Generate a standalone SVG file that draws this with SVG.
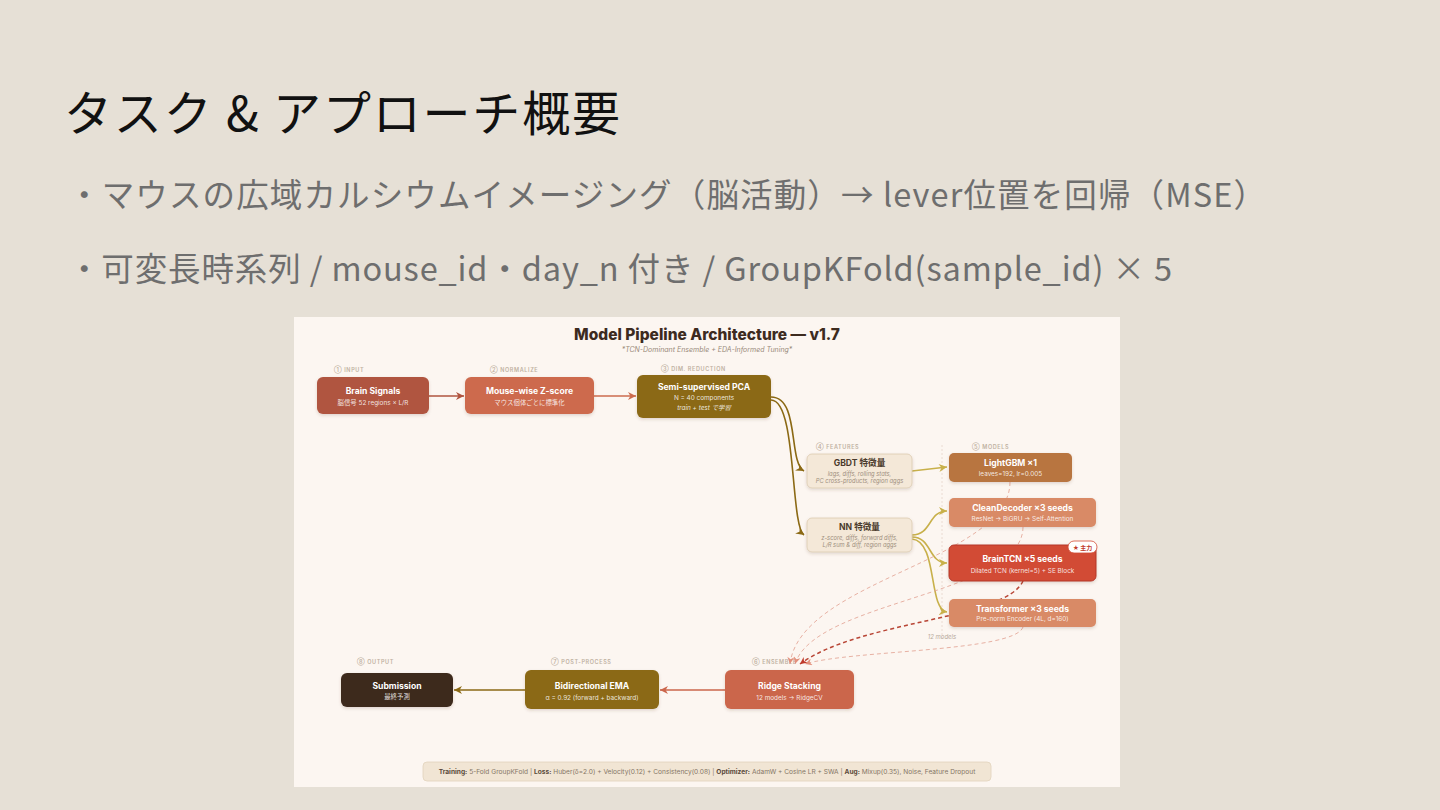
<svg xmlns="http://www.w3.org/2000/svg" width="1440" height="810" viewBox="0 0 1440 810">
<defs>
<style>
.slide{font-family:"Noto Sans CJK JP","Noto Sans",sans-serif}
.d{font-family:Inter,"Noto Sans CJK JP",sans-serif}
.stage{font-size:5.5px;fill:#bfb1a1;letter-spacing:0.6px;font-weight:600}
.nt{font-size:8.6px;font-weight:700;fill:#fff;text-anchor:middle}
.ns{font-size:6.4px;fill:#fff;fill-opacity:0.85;text-anchor:middle}
.ft{font-size:8.6px;font-weight:700;fill:#4a3a2c;text-anchor:middle}
.fs{font-size:5.8px;font-style:italic;fill:#a0907f;text-anchor:middle}
.solid{fill:none;stroke-width:1.6}
.dash{fill:none;stroke:#e3a595;stroke-width:1;stroke-dasharray:4 3;stroke-opacity:0.85}
</style>
<filter id="sh" x="-20%" y="-30%" width="140%" height="170%">
<feDropShadow dx="0" dy="1.5" stdDeviation="1.5" flood-color="#5a3a20" flood-opacity="0.18"/>
</filter>
<marker id="mRust" viewBox="0 0 10 10" refX="10" refY="5" markerWidth="10" markerHeight="8" markerUnits="userSpaceOnUse" orient="auto"><path d="M0,0 L10,5 L0,10 L3,5 z" fill="#b0543f"/></marker>
<marker id="mCoral" viewBox="0 0 10 10" refX="10" refY="5" markerWidth="10" markerHeight="8" markerUnits="userSpaceOnUse" orient="auto"><path d="M0,0 L10,5 L0,10 L3,5 z" fill="#cd6b4e"/></marker>
<marker id="mOlive" viewBox="0 0 10 10" refX="10" refY="5" markerWidth="10" markerHeight="8" markerUnits="userSpaceOnUse" orient="auto"><path d="M0,0 L10,5 L0,10 L3,5 z" fill="#8b6914"/></marker>
<marker id="mYel" viewBox="0 0 10 10" refX="10" refY="5" markerWidth="10" markerHeight="8" markerUnits="userSpaceOnUse" orient="auto"><path d="M0,0 L10,5 L0,10 L3,5 z" fill="#c8b04a"/></marker>
<marker id="mPink" viewBox="0 0 10 10" refX="10" refY="5" markerWidth="9" markerHeight="7" markerUnits="userSpaceOnUse" orient="auto"><path d="M0,0 L10,5 L0,10 L3,5 z" fill="#e3907c"/></marker>
<marker id="mRed" viewBox="0 0 10 10" refX="10" refY="5" markerWidth="9" markerHeight="7" markerUnits="userSpaceOnUse" orient="auto"><path d="M0,0 L10,5 L0,10 L3,5 z" fill="#c0392b"/></marker>
<marker id="mRidge" viewBox="0 0 10 10" refX="10" refY="5" markerWidth="10" markerHeight="8" markerUnits="userSpaceOnUse" orient="auto"><path d="M0,0 L10,5 L0,10 L3,5 z" fill="#cb664b"/></marker>
</defs>

<rect x="0" y="0" width="1440" height="810" fill="#e6e0d6"/>

<g class="slide">
<text x="64" y="131" font-size="48" fill="#111" textLength="556" lengthAdjust="spacing">タスク &amp; アプローチ概要</text>
<text x="68" y="207" font-size="32.5" fill="#6e6e6e" textLength="1198" lengthAdjust="spacing">・マウスの広域カルシウムイメージング（脳活動）→ lever位置を回帰（MSE）</text>
<text x="68" y="281" font-size="32.5" fill="#6e6e6e" textLength="1104" lengthAdjust="spacing">・可変長時系列 / mouse_id・day_n 付き / GroupKFold(sample_id) × 5</text>
</g>

<rect x="294" y="317" width="826" height="470" fill="#fcf6f1"/>

<g class="d">
<text x="707" y="340" font-size="15.5" font-weight="800" fill="#3d2b1f" text-anchor="middle">Model Pipeline Architecture — v1.7</text>
<text x="707" y="352" font-size="7" font-style="italic" fill="#9a8a7a" text-anchor="middle">*TCN-Dominant Ensemble + EDA-Informed Tuning*</text>

<g class="stage">
<text x="334" y="372">① INPUT</text>
<text x="490" y="372">② NORMALIZE</text>
<text x="661" y="371">③ DIM. REDUCTION</text>
<text x="816" y="449">④ FEATURES</text>
<text x="972" y="449">⑤ MODELS</text>
<text x="752" y="664">⑥ ENSEMBLE</text>
<text x="551" y="664">⑦ POST-PROCESS</text>
<text x="357" y="664">⑧ OUTPUT</text>
</g>

<line x1="942" y1="445" x2="942" y2="640" stroke="#e6d6cc" stroke-width="0.8" stroke-dasharray="2 2"/>

<g id="connectors">
<line class="solid" x1="429" y1="396" x2="464" y2="396" stroke="#b0543f" marker-end="url(#mRust)"/>
<line class="solid" x1="594" y1="396" x2="636" y2="396" stroke="#cd6b4e" marker-end="url(#mCoral)"/>
<path class="solid" d="M771,397 C800,397 788,462 804,471" stroke="#8b6914" stroke-width="1.4" marker-end="url(#mOlive)"/>
<path class="solid" d="M771,400 C797,400 790,525 804,535" stroke="#8b6914" stroke-width="1.4" marker-end="url(#mOlive)"/>
<path class="solid" d="M912,471 L947,467" stroke="#c8b04a" stroke-width="1.4" marker-end="url(#mYel)"/>
<path class="solid" d="M912,535 C932,535 928,511 947,511" stroke="#c8b04a" stroke-width="1.4" marker-end="url(#mYel)"/>
<path class="solid" d="M912,537 C932,537 928,563 947,563" stroke="#c8b04a" stroke-width="1.4" marker-end="url(#mYel)"/>
<path class="solid" d="M912,539 C938,541 928,610 947,612" stroke="#c8b04a" stroke-width="1.4" marker-end="url(#mYel)"/>
<path class="dash" d="M1010,482 C1010,560 800,580 790,664" marker-end="url(#mPink)"/>
<path class="dash" d="M1023,527 C1023,595 815,600 795,664" marker-end="url(#mPink)"/>
<path d="M1023,581 C1005,620 860,620 800,664" fill="none" stroke="#b84535" stroke-width="1.5" stroke-dasharray="4 3" marker-end="url(#mRed)"/>
<path class="dash" d="M1023,627 C1015,652 850,650 805,664" marker-end="url(#mPink)"/>
<line class="solid" x1="725" y1="690" x2="660" y2="690" stroke="#cb664b" marker-end="url(#mRidge)"/>
<line class="solid" x1="525" y1="690" x2="454" y2="690" stroke="#8b6914" marker-end="url(#mOlive)"/>
</g>
<text x="942" y="639" font-size="6" font-style="italic" fill="#b8aa9c" text-anchor="middle">12 models</text>

<g id="brain-signals">
<rect x="317" y="377" width="112" height="37" rx="6" fill="#b0543f" filter="url(#sh)"/>
<text class="nt" x="373" y="394">Brain Signals</text>
<text class="ns" x="373" y="405">脳信号 52 regions × L/R</text>
</g>
<g id="zscore">
<rect x="465" y="377" width="129" height="37" rx="6" fill="#cd6b4e" filter="url(#sh)"/>
<text class="nt" x="529.5" y="394">Mouse-wise Z-score</text>
<text class="ns" x="529.5" y="405">マウス個体ごとに標準化</text>
</g>
<g id="pca">
<rect x="637" y="375" width="134" height="43" rx="6" fill="#8b6914" filter="url(#sh)"/>
<text class="nt" x="704" y="390">Semi-supervised PCA</text>
<text class="ns" x="704" y="400">N = 40 components</text>
<text class="ns" x="704" y="410" font-size="5.6" fill-opacity="0.6" font-style="italic">train + test で学習</text>
</g>
<g id="gbdt-features">
<rect x="807" y="454" width="105" height="34" rx="5" fill="#f4e8d8" stroke="#dccab0" stroke-width="0.8" filter="url(#sh)"/>
<text class="ft" x="859.5" y="466" font-size="7.4">GBDT 特徴量</text>
<text class="fs" x="859.5" y="476">lags, diffs, rolling stats,</text>
<text class="fs" x="859.5" y="483">PC cross-products, region aggs</text>
</g>
<g id="nn-features">
<rect x="807" y="518" width="105" height="34" rx="5" fill="#f4e8d8" stroke="#dccab0" stroke-width="0.8" filter="url(#sh)"/>
<text class="ft" x="859.5" y="530" font-size="7.4">NN 特徴量</text>
<text class="fs" x="859.5" y="540">z-score, diffs, forward diffs,</text>
<text class="fs" x="859.5" y="547">L/R sum &amp; diff, region aggs</text>
</g>
<g id="lightgbm">
<rect x="949" y="453" width="123" height="29" rx="5" fill="#b87440" filter="url(#sh)"/>
<text class="nt" x="1010.5" y="466" font-size="7.6">LightGBM ×1</text>
<text class="ns" x="1010.5" y="475.5">leaves=192, lr=0.005</text>
</g>
<g id="cleandecoder">
<rect x="949" y="498" width="147" height="29" rx="5" fill="#d98a66" filter="url(#sh)"/>
<text class="nt" x="1022.5" y="511" font-size="7.6">CleanDecoder ×3 seeds</text>
<text class="ns" x="1022.5" y="520.5">ResNet → BiGRU → Self-Attention</text>
</g>
<g id="braintcn">
<rect x="949" y="545" width="147" height="36" rx="5" fill="#d24b35" stroke="#b5382a" stroke-width="1" filter="url(#sh)"/>
<text class="nt" x="1022.5" y="562" font-size="9">BrainTCN ×5 seeds</text>
<text class="ns" x="1022.5" y="573">Dilated TCN (kernel=5) + SE Block</text>
<rect x="1068" y="541" width="29" height="12" rx="6" fill="#fff" stroke="#d24b35" stroke-width="0.8"/>
<text x="1082.5" y="549.5" font-size="6" font-weight="700" fill="#c0392b" text-anchor="middle">★ 主力</text>
</g>
<g id="transformer">
<rect x="949" y="599" width="147" height="28" rx="5" fill="#d98a66" filter="url(#sh)"/>
<text class="nt" x="1022.5" y="611.5" font-size="7.6">Transformer ×3 seeds</text>
<text class="ns" x="1022.5" y="620.5">Pre-norm Encoder (4L, d=160)</text>
</g>
<g id="ridge">
<rect x="725" y="670" width="129" height="39" rx="6" fill="#cb664b" filter="url(#sh)"/>
<text class="nt" x="789.5" y="689">Ridge Stacking</text>
<text class="ns" x="789.5" y="700">12 models → RidgeCV</text>
</g>
<g id="ema">
<rect x="525" y="670" width="134" height="39" rx="6" fill="#8b6914" filter="url(#sh)"/>
<text class="nt" x="592" y="689">Bidirectional EMA</text>
<text class="ns" x="592" y="699.5">α = 0.92 (forward + backward)</text>
</g>
<g id="submission">
<rect x="341" y="673" width="112" height="34" rx="6" fill="#3e2a1c" filter="url(#sh)"/>
<text class="nt" x="397" y="688.5">Submission</text>
<text class="ns" x="397" y="698.5">最終予測</text>
</g>

<g id="footer">
<rect x="423" y="762" width="568" height="19" rx="4" fill="#f1e5d4" stroke="#e2d3bd" stroke-width="0.8"/>
<text x="707" y="774" font-size="6.6" fill="#857565" text-anchor="middle"><tspan font-weight="700" fill="#5a4a3a">Training:</tspan> 5-Fold GroupKFold  |  <tspan font-weight="700" fill="#5a4a3a">Loss:</tspan> Huber(δ=2.0) + Velocity(0.12) + Consistency(0.08)  |  <tspan font-weight="700" fill="#5a4a3a">Optimizer:</tspan> AdamW + Cosine LR + SWA  |  <tspan font-weight="700" fill="#5a4a3a">Aug:</tspan> Mixup(0.35), Noise, Feature Dropout</text>
</g>
</g>
</svg>
